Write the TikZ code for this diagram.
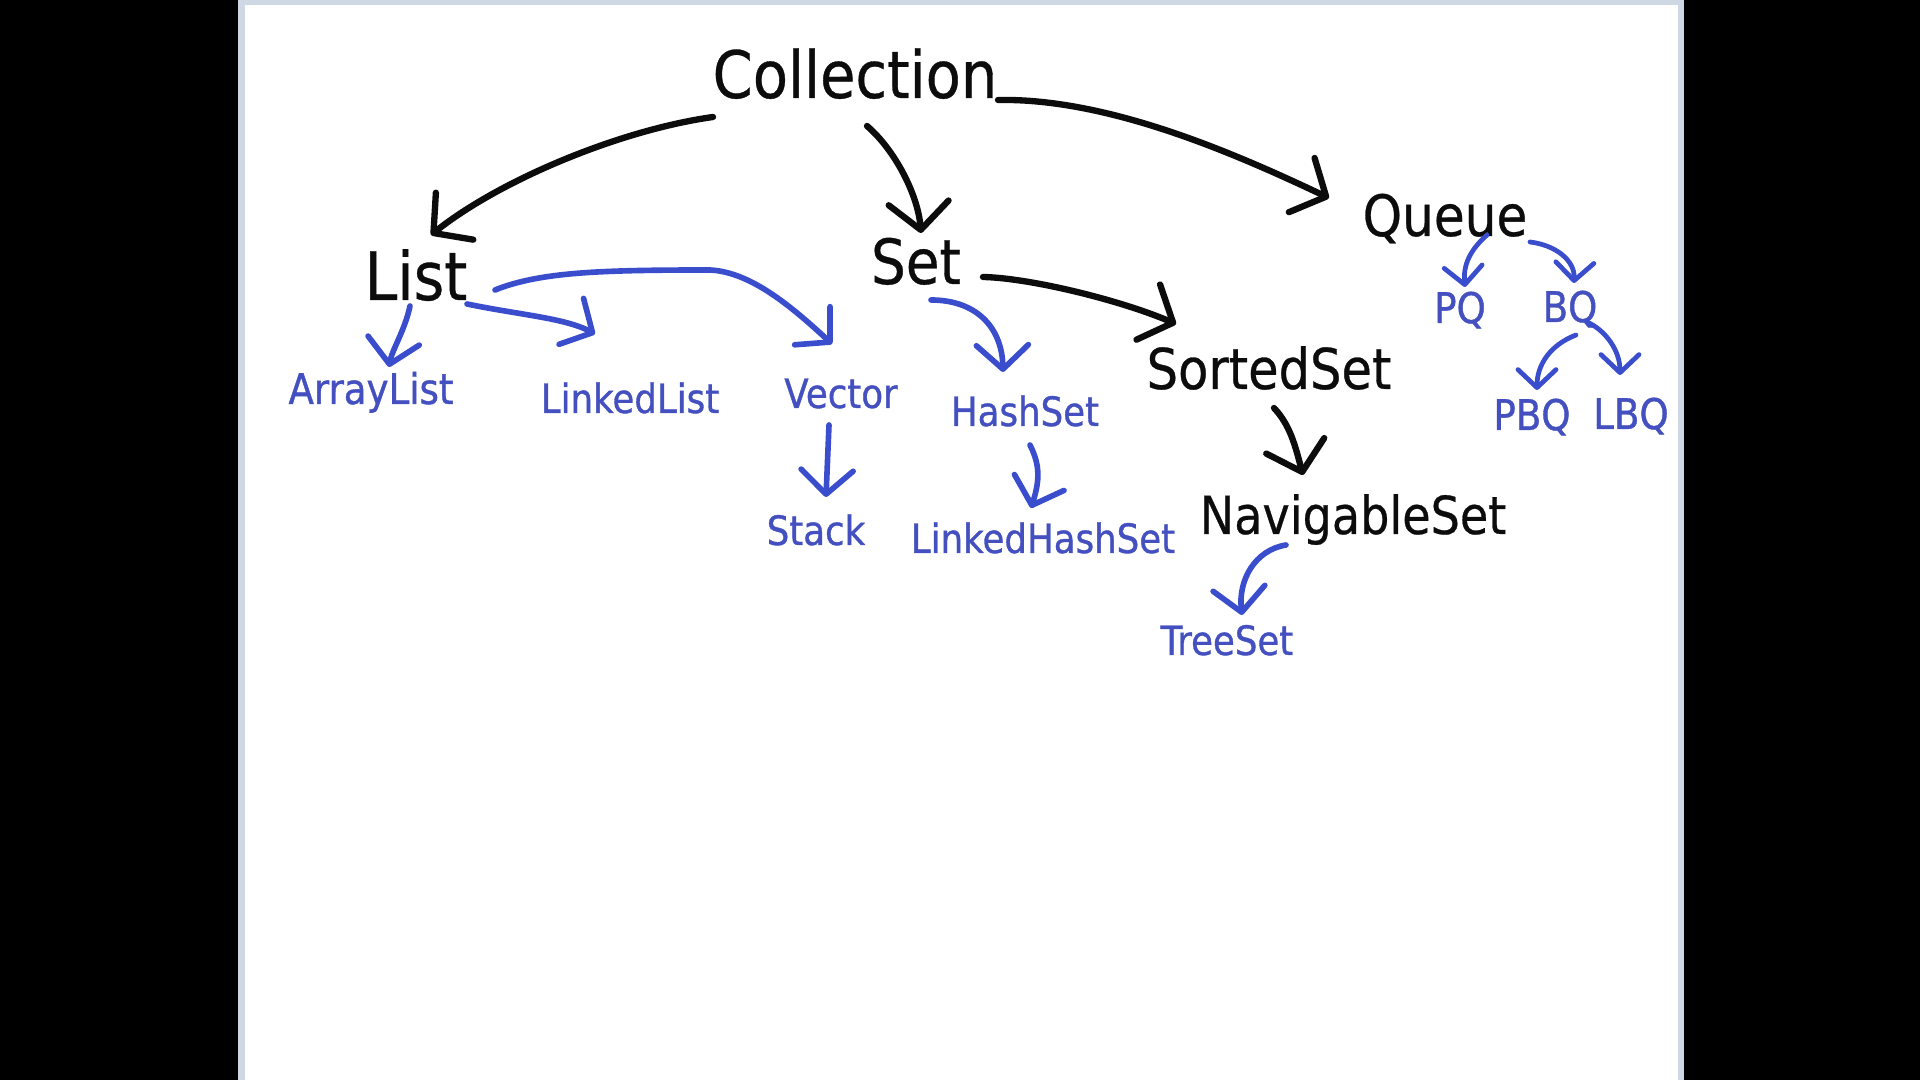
\documentclass[tikz,border=0pt]{standalone}
\usepackage{fontspec}
\setmainfont{DejaVu Sans}[FakeStretch=0.88]
\newfontfamily\inkfont{DejaVu Sans}[FakeStretch=0.88,FakeBold=0.5]
\newfontfamily\bluefont{DejaVu Sans}[FakeStretch=0.88,FakeBold=0.9]
\usetikzlibrary{arrows.meta}
\definecolor{inkblack}{RGB}{12,12,12}
\definecolor{inkblue}{RGB}{58,78,205}
\definecolor{textblue}{RGB}{68,80,192}
\definecolor{frame}{RGB}{206,216,228}
\tikzset{
  blk/.style={anchor=base, inner sep=0pt, text=inkblack},
  blu/.style={anchor=base, inner sep=0pt, text=textblue, font=\bluefont\fontsize{11.5}{13}\selectfont},
  bigarr/.style={draw=inkblack, line width=1.8pt, line cap=round, line join=round,
    -{Straight Barb[length=2.7mm,width=6mm,round]}},
  bluarr/.style={draw=inkblue, line width=1.6pt, line cap=round, line join=round,
    -{Straight Barb[length=2.4mm,width=5.2mm,round]}},
  smallarr/.style={draw=inkblue, line width=1.35pt, line cap=round, line join=round,
    -{Straight Barb[length=1.8mm,width=3.8mm,round]}}
}
\begin{document}
\begin{tikzpicture}[x=0.01cm,y=-0.01cm]
\useasboundingbox (0,0) rectangle (1920,1080);
\fill[black] (0,0) rectangle (1920,1080);
\fill[frame] (238,0) rectangle (1684,1080);
\fill[white] (245,5) rectangle (1678,1080);

% black nodes
\node[blk, font=\inkfont\fontsize{18.6}{20}\selectfont] (coll) at (855,98) {Collection};
\node[blk, font=\inkfont\fontsize{19}{20}\selectfont] (list) at (416,300) {List};
\node[blk, font=\inkfont\fontsize{17.7}{20}\selectfont] (set) at (916,284) {Set};
\node[blk, font=\inkfont\fontsize{16.2}{18}\selectfont] (queue) at (1445,236) {Queue};
\node[blk, font=\inkfont\fontsize{16}{18}\selectfont] (sorted) at (1269,389) {SortedSet};
\node[blk, font=\inkfont\fontsize{14.9}{17}\selectfont] (nav) at (1353,534) {NavigableSet};

% blue nodes
\node[blu, font=\bluefont\fontsize{12}{13}\selectfont] (al) at (371,404) {ArrayList};
\node[blu] (ll) at (630,413) {LinkedList};
\node[blu] (vec) at (841,408) {Vector};
\node[blu] (hs) at (1025,426) {HashSet};
\node[blu] (stk) at (816,545) {Stack};
\node[blu] (lhs) at (1043,553) {LinkedHashSet};
\node[blu] (ts) at (1227,655) {TreeSet};
\node[blu, font=\bluefont\fontsize{12}{13}\selectfont] (pq) at (1460,323) {PQ};
\node[blu, font=\bluefont\fontsize{12}{13}\selectfont] (bq) at (1570,322) {BQ};
\node[blu, font=\bluefont\fontsize{12}{13}\selectfont] (pbq) at (1532,430) {PBQ};
\node[blu, font=\bluefont\fontsize{12}{13}\selectfont] (lbq) at (1631,429) {LBQ};

% black connectors
\draw[bigarr] ([shift={(-142,19)}]coll.base) .. controls +(-93,13) and +(69,-55) .. ([shift={(15,-65)}]list.base);
\draw[bigarr] ([shift={(12,28)}]coll.base) .. controls +(28,24) and +(-3,-38) .. ([shift={(5,-51)}]set.base);
\draw[bigarr] ([shift={(143,2)}]coll.base) .. controls +(110,-2) and +(-95,-45) .. ([shift={(-116,-38)}]queue.base);
\draw[bigarr] ([shift={(67,-7)}]set.base) .. controls +(47,1) and +(-56,-24) .. ([shift={(-93,-65)}]sorted.base);
\draw[bigarr] ([shift={(5,19)}]sorted.base) .. controls +(16,17) and +(-8,-30) .. ([shift={(-50,-59)}]nav.base);

% blue connectors
\draw[bluarr] ([shift={(-6,6)}]list.base) .. controls +(-5,24) and +(3,-17) .. ([shift={(18,-37)}]al.base);
\draw[bluarr] ([shift={(51,4)}]list.base) .. controls +(53,11) and +(-30,-16) .. ([shift={(-35,-79)}]ll.base);
\draw[bluarr] ([shift={(79,-10)}]list.base) .. controls +(45,-18) and +(-110,0) .. (710,270)
   .. controls +(40,2) and +(-42,-39) .. ([shift={(-9,-64)}]vec.base);
\draw[bluarr] ([shift={(15,16)}]set.base) .. controls +(45,0) and +(-1,-45) .. ([shift={(-22,-54)}]hs.base);
\draw[bluarr] ([shift={(-12,17)}]vec.base) -- ([shift={(10,-48)}]stk.base);
\draw[bluarr] ([shift={(5,19)}]hs.base) .. controls +(10,20) and +(9,-28) .. ([shift={(-12,-45)}]lhs.base);
\draw[bluarr] ([shift={(-67,11)}]nav.base) .. controls +(-31,5) and +(-4,-35) .. ([shift={(15,-40)}]ts.base);
\draw[smallarr] ([shift={(42,-1)}]queue.base) .. controls +(-17,15) and +(-2,-22) .. ([shift={(5,-36)}]pq.base);
\draw[smallarr] ([shift={(85,6)}]queue.base) .. controls +(25,3) and +(1,-23) .. ([shift={(4,-39)}]bq.base);
\draw[smallarr] ([shift={(6,13)}]bq.base) .. controls +(-26,10) and +(0,-25) .. ([shift={(5,-40)}]pbq.base);
\draw[smallarr] ([shift={(17,0)}]bq.base) .. controls +(18,8) and +(0,-25) .. ([shift={(-11,-54)}]lbq.base);
\end{tikzpicture}
\end{document}
